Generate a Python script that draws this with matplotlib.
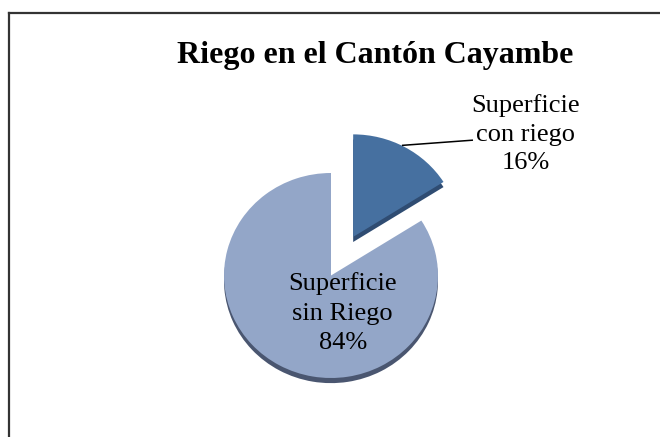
import matplotlib
matplotlib.use("Agg")
import matplotlib.pyplot as plt
from matplotlib.lines import Line2D

labels = ["Superficie\ncon riego", "Superficie\nsin Riego"]
values = [16, 84]
colors = ["#4670a0", "#93a6c8"]
rim_colors = ["#2f4c72", "#4a5670"]
explode = [0.43, 0.0]

plt.rcParams['font.family'] = ['Liberation Serif', 'DejaVu Serif']

fig = plt.figure(figsize=(6.6, 4.37), dpi=100)
fig.patch.set_facecolor("white")

# pie axes: 1 unit ~ 107 px wide, ~102 px tall (slight tilt)
ax = fig.add_axes([202.6/660, 38.5/437, 256.8/660, 246/437])
ax.axis("off")

# dark rim underneath for a slight 3D look
ax.pie(values, colors=rim_colors, explode=explode, startangle=90,
       counterclock=False, center=(0, -0.05), radius=1.0,
       wedgeprops=dict(linewidth=0))
ax.pie(values, colors=colors, explode=explode, startangle=90,
       counterclock=False, radius=1.0,
       wedgeprops=dict(linewidth=0))
ax.set_aspect("auto")
ax.set_xlim(-1.2, 1.2)
ax.set_ylim(-1.2, 1.2)

pct = [f"{v}%" for v in values]
ax.text(0.11, -0.366, f"{labels[1]}\n{pct[1]}", ha="center", va="center",
        fontsize=19, linespacing=1.45)
ax.text(1.82, 1.38, f"{labels[0]}\n{pct[0]}", ha="center", va="center",
        fontsize=19, linespacing=1.4, clip_on=False)
ax.plot([0.67, 1.32], [1.27, 1.32], color="black", lw=1.1, clip_on=False)

fig.text(375/660, 1 - 56/437, "Riego en el Cantón Cayambe", ha="center",
         va="center", fontsize=23, fontweight="bold")

# chart border (only top and left visible in the crop)
fig.add_artist(Line2D([9/660, 1.01], [1 - 13/437, 1 - 13/437], color="#333333", lw=1.6))
fig.add_artist(Line2D([9/660, 9/660], [1 - 13/437, -0.01], color="#333333", lw=1.6))

fig.savefig("out.png", dpi=100)
